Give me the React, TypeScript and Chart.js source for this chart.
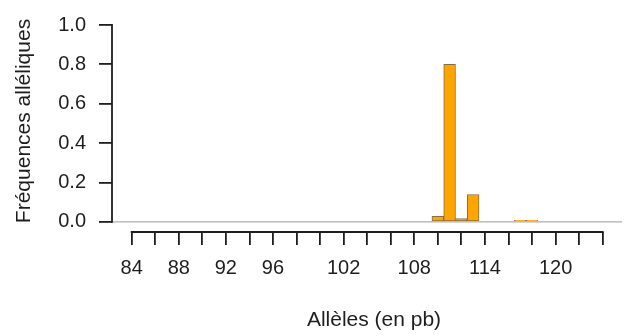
import React, { useEffect, useRef } from "react";
import { Chart, registerables } from "chart.js";

Chart.register(...registerables);

const alleles = [110, 111, 112, 113, 117, 118];
const frequencies = [0.028, 0.8, 0.017, 0.139, 0.008, 0.008];
const xTickValues = [84, 86, 88, 90, 92, 94, 96, 98, 100, 102, 104, 106, 108, 110, 112, 114, 116, 118, 120, 122, 124];
const xTickLabels = [84, 88, 92, 96, 102, 108, 114, 120];
const yTickValues = [0, 0.2, 0.4, 0.6, 0.8, 1.0];
const xTitle = "Allèles (en pb)";
const yTitle = "Fréquences alléliques";

const FONT = '"Liberation Sans", Arial, Helvetica, sans-serif';
const INK = "#1e1e1e";

const axesPlugin = {
  id: "rAxes",
  beforeDatasetsDraw(chart: any) {
    const { ctx, chartArea, scales } = chart;
    const y0 = scales.y.getPixelForValue(0);
    ctx.save();
    ctx.strokeStyle = "#9a9a9a";
    ctx.lineWidth = 1;
    ctx.beginPath();
    ctx.moveTo(chartArea.left, y0);
    ctx.lineTo(chartArea.right, y0);
    ctx.stroke();
    ctx.restore();
  },
  afterDraw(chart: any) {
    const { ctx, chartArea, scales } = chart;
    const x = scales.x;
    const y = scales.y;
    ctx.save();
    ctx.strokeStyle = INK;
    ctx.lineWidth = 1.8;
    ctx.lineCap = "square";
    ctx.beginPath();
    ctx.moveTo(chartArea.left, y.getPixelForValue(yTickValues[0]));
    ctx.lineTo(chartArea.left, y.getPixelForValue(yTickValues[yTickValues.length - 1]));
    ctx.stroke();
    ctx.beginPath();
    ctx.moveTo(x.getPixelForValue(xTickValues[0]), chartArea.bottom);
    ctx.lineTo(x.getPixelForValue(xTickValues[xTickValues.length - 1]), chartArea.bottom);
    ctx.stroke();

    ctx.fillStyle = INK;
    ctx.font = `21px ${FONT}`;
    ctx.textAlign = "center";
    ctx.textBaseline = "alphabetic";
    ctx.fillText(xTitle, 374, 326);
    ctx.translate(30, 121);
    ctx.rotate(-Math.PI / 2);
    ctx.fillText(yTitle, 0, 0);
    ctx.restore();
  },
};

export default function App() {
  const ref = useRef<HTMLCanvasElement | null>(null);
  useEffect(() => {
    if (!ref.current) return;
    const chart = new Chart(ref.current, {
      type: "bar",
      data: {
        datasets: [
          {
            data: alleles.map((a, i) => ({ x: a, y: frequencies[i] })),
            backgroundColor: "#FFA500",
            borderColor: "#866e42",
            borderWidth: 1,
            borderSkipped: false,
            barPercentage: 1,
            categoryPercentage: 1,
          },
        ],
      },
      options: {
        animation: false,
        responsive: true,
        maintainAspectRatio: false,
        layout: { padding: { top: 21, right: 2, left: 0, bottom: 0 } },
        plugins: { legend: { display: false }, tooltip: { enabled: false } },
        scales: {
          x: {
            type: "linear",
            offset: false,
            min: 82.33,
            max: 125.64,
            afterFit: (s: any) => {
              s.height = 104;
            },
            afterBuildTicks: (s: any) => {
              s.ticks = xTickValues.map((v) => ({ value: v }));
            },
            ticks: {
              autoSkip: false,
              maxRotation: 0,
              minRotation: 0,
              padding: 11,
              color: INK,
              font: { family: FONT, size: 20 },
              callback: (v: any) => (xTickLabels.includes(Number(v)) ? String(v) : ""),
            },
            grid: {
              offset: false,
              drawOnChartArea: false,
              drawTicks: true,
              tickLength: 13,
              color: INK,
              lineWidth: 1.8,
            },
            border: { display: false },
          },
          y: {
            type: "linear",
            min: -0.0513,
            max: 1,
            afterFit: (s: any) => {
              s.width = 112;
            },
            afterBuildTicks: (s: any) => {
              s.ticks = yTickValues.map((v) => ({ value: v }));
            },
            ticks: {
              padding: 13,
              color: INK,
              font: { family: FONT, size: 20 },
              callback: (v: any) => Number(v).toFixed(1),
            },
            grid: {
              drawOnChartArea: false,
              drawTicks: true,
              tickLength: 13,
              color: INK,
              lineWidth: 1.8,
            },
            border: { display: false },
          },
        },
      },
      plugins: [axesPlugin],
    });
    return () => chart.destroy();
  }, []);
  return (
    <div style={{ position: "absolute", left: 0, top: 0, width: 624, height: 336, background: "#fff" }}>
      <canvas ref={ref} />
    </div>
  );
}
